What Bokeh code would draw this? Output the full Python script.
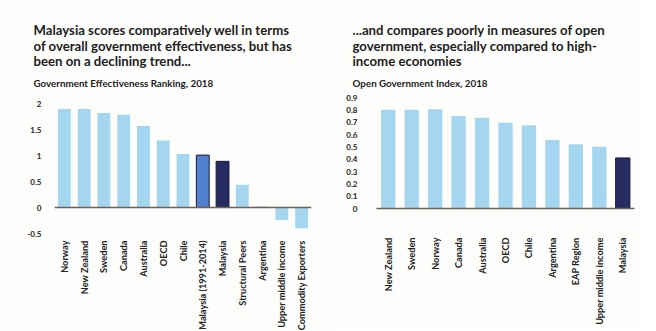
from bokeh.plotting import figure
from bokeh.models import Title, Span, FixedTicker, ColumnDataSource, FactorRange, Range1d
from bokeh.layouts import row
from bokeh.embed import file_html
from bokeh.resources import INLINE
import math

# ---- data ----
left_categories = ["Norway", "New Zealand", "Sweden", "Canada", "Australia", "OECD", "Chile",
                   "Malaysia (1991-2014)", "Malaysia", "Structural Peers", "Argentina",
                   "Upper middle income", "Commodity Exporters"]
left_values = [1.90, 1.90, 1.82, 1.79, 1.57, 1.29, 1.03, 1.01, 0.89, 0.44, 0.02, -0.24, -0.40]
left_ticks = [-0.5, 0, 0.5, 1, 1.5, 2]
left_tick_labels = ["-0.5", "0", "0.5", "1", "1.5", "2"]

right_categories = ["New Zealand", "Sweden", "Norway", "Canada", "Australia", "OECD", "Chile",
                    "Argentina", "EAP Region", "Upper middle income", "Malaysia"]
right_values = [0.80, 0.80, 0.805, 0.75, 0.735, 0.695, 0.675, 0.555, 0.52, 0.50, 0.41]
right_ticks = [0, 0.1, 0.2, 0.3, 0.4, 0.5, 0.6, 0.7, 0.8, 0.9]
right_tick_labels = ["0", "0.1", "0.2", "0.3", "0.4", "0.5", "0.6", "0.7", "0.8", "0.9"]

left_title = ["Malaysia scores comparatively well in terms",
              "of overall government effectiveness, but has",
              "been on a declining trend..."]
left_subtitle = "Government Effectiveness Ranking, 2018"
right_title = ["...and compares poorly in measures of open",
               "government, especially compared to high-",
               "income economies"]
right_subtitle = "Open Government Index, 2018"

LIGHT = "#a4d6f0"
MID = "#5080d0"
DARK = "#262b62"
FONT = "Lato"
BG = "#fdfdfc"


def bar_colors(cats):
    out = []
    for c in cats:
        if c == "Malaysia (1991-2014)":
            out.append(MID)
        elif c == "Malaysia":
            out.append(DARK)
        else:
            out.append(LIGHT)
    return out


def line_colors(cats):
    return ["#1a1a3a" if c in ("Malaysia", "Malaysia (1991-2014)") else None for c in cats]


def add_titles(p, lines, subtitle, offset):
    p.add_layout(Title(text=subtitle, align="left", offset=offset, text_font=FONT,
                       text_font_size="9.8px", text_font_style="bold", text_color="#222222",
                       standoff=17), "above")
    standoffs = [-2.5, -2.5, -4]
    for ln, so in zip(reversed(lines), reversed(standoffs)):
        p.add_layout(Title(text=ln, align="left", offset=offset, text_font=FONT,
                           text_font_size="13.2px", text_font_style="bold",
                           text_color="#1e1e1e", standoff=so), "above")


def style(p, ticks, labels):
    p.toolbar_location = None
    p.background_fill_color = BG
    p.border_fill_color = BG
    p.outline_line_color = None
    p.xgrid.grid_line_color = None
    p.ygrid.grid_line_color = None
    p.yaxis.ticker = FixedTicker(ticks=ticks)
    p.yaxis.major_label_overrides = {t: l for t, l in zip(ticks, labels)}
    p.yaxis.axis_line_color = None
    p.yaxis.major_tick_line_color = None
    p.yaxis.minor_tick_line_color = None
    p.yaxis.major_label_text_font = FONT
    p.yaxis.major_label_text_font_size = "8px"
    p.yaxis.major_label_text_font_style = "bold"
    p.yaxis.major_label_text_color = "#222222"
    p.xaxis.major_tick_line_color = None
    p.xaxis.minor_tick_line_color = None
    p.xaxis.major_label_orientation = math.pi / 2
    p.xaxis.major_label_text_font = FONT
    p.xaxis.major_label_text_font_size = "9.2px"
    p.xaxis.major_label_text_font_style = "bold"
    p.xaxis.major_label_text_color = "#222222"


# ---- left chart ----
src_l = ColumnDataSource(dict(cat=left_categories, val=left_values,
                              color=bar_colors(left_categories),
                              lc=line_colors(left_categories)))
pl = figure(x_range=FactorRange(*left_categories, range_padding=0),
            y_range=Range1d(-0.5, 2.12),
            frame_width=257, frame_height=136,
            output_backend="svg", toolbar_location=None, title=None,
            min_border_left=54, min_border_right=21, min_border_top=97, min_border_bottom=88)
pl.vbar(x="cat", top="val", bottom=0, width=0.65, source=src_l, fill_color="color",
        line_color="lc", line_width=1)
style(pl, left_ticks, left_tick_labels)
pl.xaxis.axis_line_color = None
pl.xaxis.major_label_standoff = 1
pl.yaxis.major_label_standoff = 7
pl.add_layout(Span(location=0, dimension="width", line_color="#6e6257", line_width=1.5))
add_titles(pl, left_title, left_subtitle, -21)

# ---- right chart ----
src_r = ColumnDataSource(dict(cat=right_categories, val=right_values,
                              color=bar_colors(right_categories),
                              lc=line_colors(right_categories)))
pr = figure(x_range=FactorRange(*right_categories, range_padding=0),
            y_range=Range1d(0, 0.9),
            frame_width=258, frame_height=111,
            output_backend="svg", toolbar_location=None, title=None,
            min_border_left=44, min_border_right=6, min_border_top=97, min_border_bottom=112)
pr.vbar(x="cat", top="val", bottom=0, width=0.61, source=src_r, fill_color="color",
        line_color="lc", line_width=1)
style(pr, right_ticks, right_tick_labels)
pr.xaxis.axis_line_color = "#6e6257"
pr.xaxis.axis_line_width = 1.5
pr.xaxis.major_label_standoff = 23
pr.yaxis.major_label_standoff = 13
add_titles(pr, right_title, right_subtitle, -24)

layout = row(pl, pr, spacing=0)
open("out.html", "w").write(file_html(layout, INLINE))
